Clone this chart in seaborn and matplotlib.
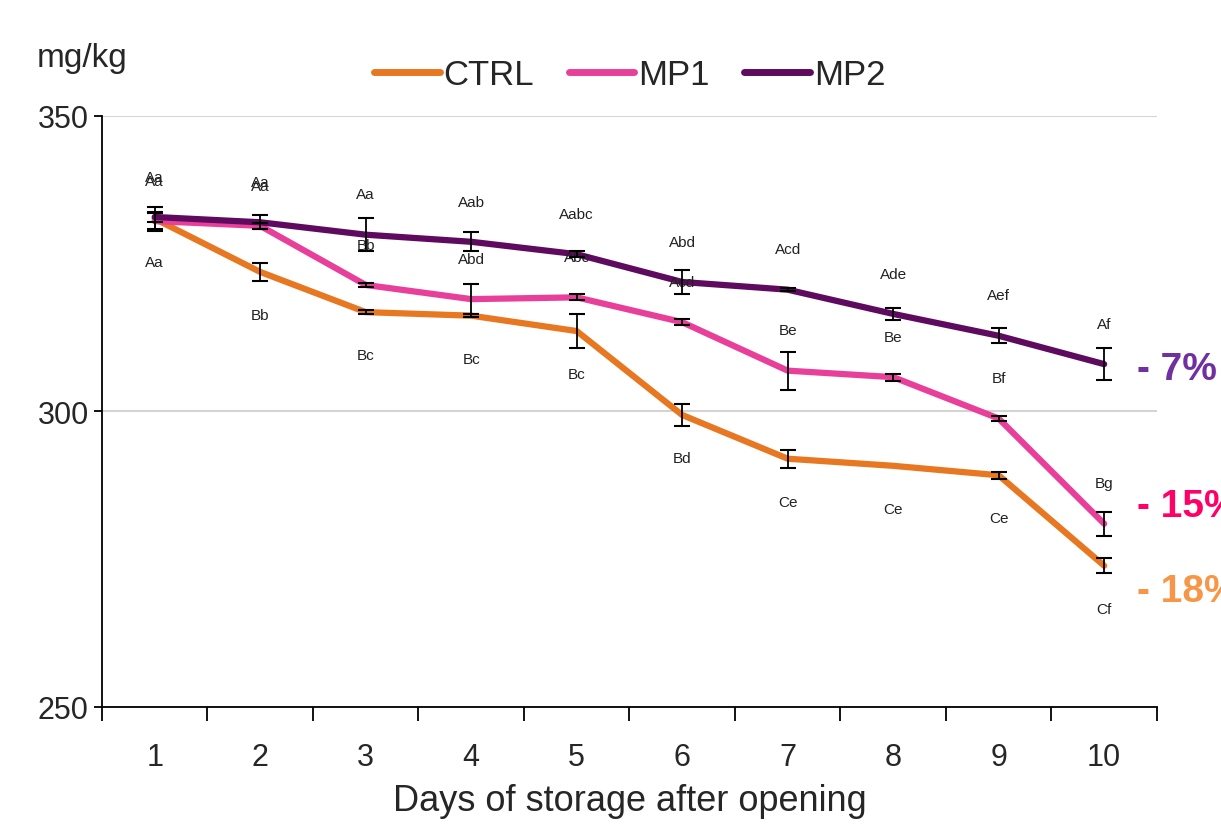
import numpy as np
import pandas as pd
import seaborn as sns
import matplotlib.pyplot as plt
from matplotlib.ticker import FixedLocator

# data
days = [1, 2, 3, 4, 5, 6, 7, 8, 9, 10]
ctrl = [332.6, 323.6, 316.8, 316.2, 313.6, 299.4, 292.0, 290.8, 289.2, 273.9]
mp1 = [332.2, 331.4, 321.4, 319.0, 319.3, 315.1, 306.9, 305.8, 298.8, 281.0]
mp2 = [332.9, 332.0, 329.9, 328.7, 326.6, 321.9, 320.6, 316.5, 312.8, 308.0]
ctrl_err = [2.0, 1.5, 0.4, 0.2, 2.8, 1.8, 1.5, np.nan, 0.6, 1.3]
mp1_err = [1.3, 0.5, 0.3, 2.5, 0.5, 0.5, 3.2, 0.6, 0.4, 2.0]
mp2_err = [0.8, 1.2, 2.8, 1.6, 0.5, 2.0, 0.2, 1.0, 1.3, 2.7]
ctrl_letters = ['Aa', 'Bb', 'Bc', 'Bc', 'Bc', 'Bd', 'Ce', 'Ce', 'Ce', 'Cf']
mp1_letters = ['Aa', 'Aa', 'Bb', 'Abd', 'Abc', 'Acd', 'Be', 'Be', 'Bf', 'Bg']
mp2_letters = ['Aa', 'Aa', 'Aa', 'Aab', 'Aabc', 'Abd', 'Acd', 'Ade', 'Aef', 'Af']
treatments = ['CTRL', 'MP1', 'MP2']
drops = ['- 18%', '- 15%', '- 7%']

colors = {'CTRL': '#E87722', 'MP1': '#E8409A', 'MP2': '#5E0A5E'}
drop_colors = {'CTRL': '#F79646', 'MP1': '#FF0066', 'MP2': '#7030A0'}

sns.set_style('white')
plt.rcParams['font.family'] = ['Liberation Sans Narrow', 'Liberation Sans', 'DejaVu Sans']

df = pd.DataFrame({
    'day': days * 3,
    'value': ctrl + mp1 + mp2,
    'err': ctrl_err + mp1_err + mp2_err,
    'letters': ctrl_letters + mp1_letters + mp2_letters,
    'treatment': [t for t in treatments for _ in days],
})

fig = plt.figure(figsize=(12.21, 8.29), dpi=100)
ax = fig.add_axes([0.0835, 0.146, 0.864, 0.713])

sns.lineplot(data=df, x='day', y='value', hue='treatment', palette=colors,
             linewidth=4.5, errorbar=None, ax=ax, zorder=3)

for t in treatments:
    sub = df[df['treatment'] == t].dropna(subset=['err'])
    ax.errorbar(sub['day'], sub['value'], yerr=sub['err'], fmt='none',
                ecolor='black', elinewidth=1.3, capsize=6, capthick=1.5, zorder=4)
    # significance letters
    sub = df[df['treatment'] == t]
    off = -31 if t == 'CTRL' else 29
    for d, v, s in zip(sub['day'], sub['value'], sub['letters']):
        ax.annotate(s, (d, v), xytext=(0, off), textcoords='offset points',
                    ha='center', va='center', fontsize=11, color='#222222')

# percentage loss at the right edge
for t, txt in zip(treatments, drops):
    ypos = {'CTRL': 269.6, 'MP1': 284.0, 'MP2': 307.2}[t]
    ax.text(10.31, ypos, txt, color=drop_colors[t], fontsize=28, fontweight='bold',
            ha='left', va='center', clip_on=False)

ax.set_xlim(0.5, 10.5)
ax.set_ylim(250, 350)
ax.set_yticks([250, 300, 350])
ax.set_xticks(days)
ax.xaxis.set_minor_locator(FixedLocator(np.arange(0.5, 11, 1)))
ax.tick_params(axis='x', which='major', bottom=False, labelsize=22, pad=22)
ax.tick_params(axis='x', which='minor', bottom=True, length=10, width=1.3,
               color='black', direction='out')
ax.tick_params(axis='y', left=True, length=6, width=1.3, color='black',
               labelsize=22, direction='out')
ax.yaxis.grid(True, color='#D4D4D4', linewidth=1.5)
ax.set_axisbelow(True)

sns.despine(ax=ax, top=True, right=True)
for side in ['left', 'bottom']:
    ax.spines[side].set_color('black')
    ax.spines[side].set_linewidth(1.3)

ax.set_xlabel('Days of storage after opening', fontsize=26, labelpad=8)
ax.set_ylabel('')
fig.text(0.03, 0.93, 'mg/kg', fontsize=24, ha='left', va='center')

handles, labels = ax.get_legend_handles_labels()
ax.legend(handles, labels, loc='center', bbox_to_anchor=(0.5, 1.07), ncol=3,
          frameon=False, fontsize=25, handlelength=1.9, handletextpad=0.1,
          columnspacing=1.0)
for line in ax.get_legend().get_lines():
    line.set_linewidth(5)

fig.savefig('out.png', dpi=100)
